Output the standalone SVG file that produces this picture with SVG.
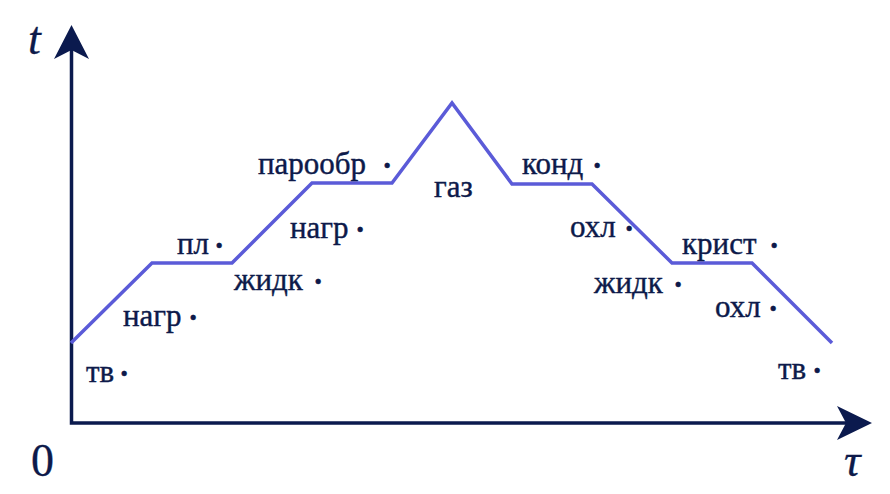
<svg xmlns="http://www.w3.org/2000/svg" width="890" height="494" viewBox="0 0 890 494">
<style>
.ax{stroke:#0b1a4e;stroke-width:3.5;fill:none}
.head{fill:#0b1a4e}
.curve{stroke:#5b5bd8;stroke-width:3.5;fill:none;stroke-linejoin:miter}
.lbl{font-family:"Liberation Serif",serif;font-size:31px;fill:#0d1a4a;stroke:#0d1a4a;stroke-width:0.4}
.dot{font-weight:bold}
.big{font-family:"Liberation Serif",serif;font-size:46px;fill:#0d1a4a;stroke:#0d1a4a;stroke-width:0.3}
.it{font-style:italic}
</style>
<rect width="890" height="494" fill="#ffffff"/>
<g id="axes">
<path class="ax" d="M71.5,50 V423 H848"/>
<path class="head" d="M71.5,25 L89,59 L71.5,50 L54,59 Z"/>
<path class="head" d="M872,423 L837,406 L846,423 L837,440 Z"/>
<text class="big it" x="28" y="54">t</text>
<text class="big" x="31" y="476">0</text>
<text class="big it" x="844" y="476">τ</text>
</g>
<g id="connectors">
<polyline class="curve" points="71,343 152,263 232,263 312,183 392,183 452,103 512,184 592,184 672,263 752,263 832,343"/>
</g>
<g id="labels">
<text class="lbl" x="86" y="382">тв<tspan class="dot" x="119" dy="2">·</tspan></text>
<text class="lbl" x="123" y="326">нагр<tspan class="dot" x="188" dy="2">·</tspan></text>
<text class="lbl" x="177" y="254">пл<tspan class="dot" x="214" dy="2">·</tspan></text>
<text class="lbl" x="234" y="290">жидк<tspan class="dot" x="313" dy="2">·</tspan></text>
<text class="lbl" x="290" y="238">нагр<tspan class="dot" x="355" dy="2">·</tspan></text>
<text class="lbl" x="258" y="174">парообр<tspan class="dot" x="382" dy="2">·</tspan></text>
<text class="lbl" x="434" y="197">газ</text>
<text class="lbl" x="522" y="174">конд<tspan class="dot" x="592" dy="2">·</tspan></text>
<text class="lbl" x="570" y="237">охл<tspan class="dot" x="624" dy="2">·</tspan></text>
<text class="lbl" x="682" y="254">крист<tspan class="dot" x="769" dy="2">·</tspan></text>
<text class="lbl" x="594" y="293">жидк<tspan class="dot" x="673" dy="2">·</tspan></text>
<text class="lbl" x="715" y="317">охл<tspan class="dot" x="768" dy="2">·</tspan></text>
<text class="lbl" x="778" y="379">тв<tspan class="dot" x="812" dy="2">·</tspan></text>
</g>
</svg>
